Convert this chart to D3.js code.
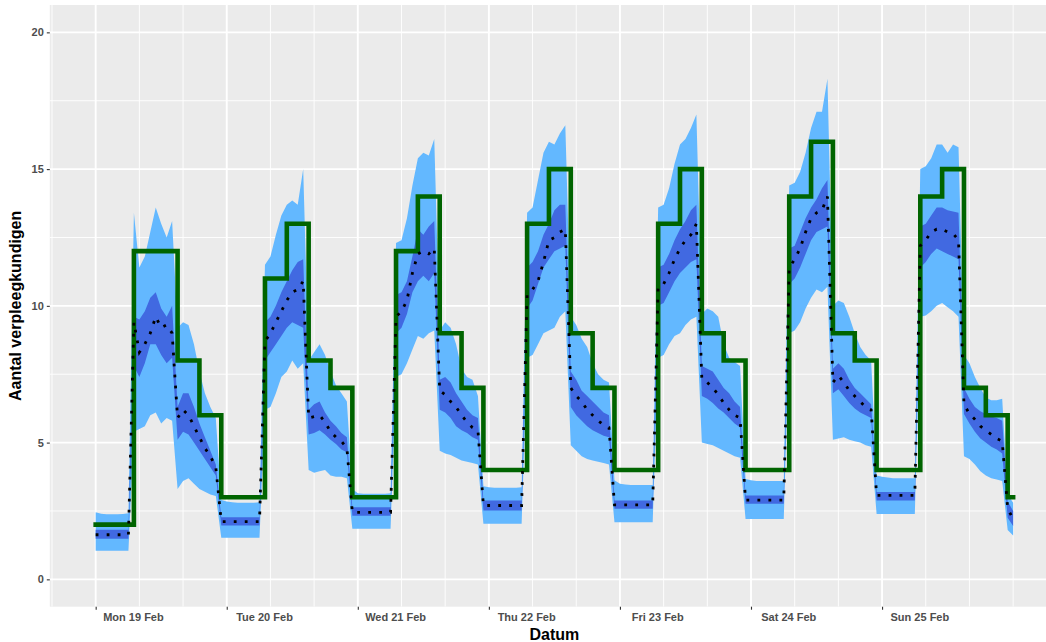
<!DOCTYPE html>
<html>
<head>
<meta charset="utf-8">
<script src="https://cdn.jsdelivr.net/npm/d3@7"></script>
<style>
  html, body { margin: 0; padding: 0; background: #ffffff; }
  svg { display: block; font-family: "Liberation Sans", Arial, sans-serif; }
</style>
</head>
<body>
<svg id="chart" width="1046" height="642"></svg>
<script>
// ---------------- DATA (hourly, from Mon 19 Feb 2018 00:00 to Mon 26 Feb 00:00) ----------------
const startDate = Date.UTC(2018, 1, 19, 0);

// median forecast (dotted line)
const median = [
  1.63,1.63,1.63,1.63,1.63,1.63,1.63,
  9.4,8.3,8.6,9.0,9.6,9.2,9.3,9.0,
  5.9,6.2,6.0,5.6,5.2,4.8,4.5,4.1,
  2.11,2.11,2.11,2.11,2.11,2.11,2.11,2.11,
  8.7,9.0,9.4,9.8,10.2,10.5,10.6,10.9,
  5.9,5.95,6.0,5.75,5.4,5.2,5.05,4.8,
  2.45,2.45,2.45,2.45,2.45,2.45,2.45,2.45,
  9.6,9.8,10.2,11.2,11.9,12.0,11.9,12.1,
  6.9,6.75,6.5,6.3,6.0,5.75,5.55,5.45,
  2.7,2.7,2.7,2.7,2.7,2.7,2.7,2.7,
  10.4,10.6,10.9,11.6,12.4,12.5,12.7,12.8,
  7.0,6.7,6.5,6.2,6.0,5.8,5.65,5.55,
  2.72,2.72,2.72,2.72,2.72,2.72,2.72,2.72,
  10.7,10.8,11.2,11.7,12.1,12.4,12.6,13.0,
  7.3,7.2,7.0,6.75,6.45,6.2,6.0,5.9,
  2.9,2.9,2.9,2.9,2.9,2.9,2.9,2.9,
  11.4,11.7,12.1,12.7,13.2,13.4,13.5,14.0,
  7.2,7.45,7.2,6.9,6.7,6.5,6.3,6.2,
  3.07,3.07,3.07,3.07,3.07,3.07,3.07,3.07,
  12.2,12.4,12.7,12.8,12.8,12.7,12.65,12.4,
  6.4,6.05,5.85,5.6,5.45,5.3,5.15,5.05,
  2.6,2.2
];

// inner band (dark blue) lower / upper
const lo80 = [
  1.48,1.48,1.48,1.48,1.48,1.48,1.48,
  7.8,7.4,7.9,8.6,8.6,8.2,7.9,8.1,
  5.1,5.4,5.3,5.0,4.7,4.4,4.1,3.8,
  1.97,1.97,1.97,1.97,1.97,1.97,1.97,1.97,
  8.0,8.3,8.6,8.9,9.2,9.4,9.3,9.2,
  5.3,5.35,5.45,5.3,5.1,4.95,4.75,4.65,
  2.33,2.33,2.33,2.33,2.33,2.33,2.33,2.33,
  9.0,9.2,9.7,10.5,10.9,11.1,10.9,11.2,
  6.2,6.1,5.9,5.6,5.45,5.35,5.2,5.1,
  2.52,2.52,2.52,2.52,2.52,2.52,2.52,2.52,
  9.9,10.2,10.8,11.4,11.7,12.0,12.1,12.2,
  6.3,6.0,5.8,5.6,5.45,5.35,5.25,5.2,
  2.58,2.58,2.58,2.58,2.58,2.58,2.58,2.58,
  10.0,10.1,10.5,10.9,11.2,11.4,11.6,11.7,
  6.7,6.6,6.45,6.25,6.1,5.9,5.7,5.55,
  2.76,2.76,2.76,2.76,2.76,2.76,2.76,2.76,
  10.8,11.0,11.4,11.9,12.4,12.7,12.8,12.9,
  6.8,6.95,6.7,6.45,6.25,6.1,6.0,5.9,
  2.88,2.88,2.88,2.88,2.88,2.88,2.88,2.88,
  11.4,11.6,11.9,12.1,12.0,11.9,11.8,11.7,
  6.05,5.7,5.4,5.15,5.0,4.85,4.75,4.6,
  2.25,1.95
];
const hi80 = [
  1.81,1.81,1.81,1.81,1.81,1.81,1.81,
  9.6,9.5,9.8,10.3,10.5,9.9,9.6,10.0,
  6.3,6.8,6.8,6.3,5.7,5.2,4.7,4.2,
  2.27,2.27,2.27,2.27,2.27,2.27,2.27,2.27,
  9.4,9.6,10.0,10.5,10.9,11.3,11.6,11.7,
  6.2,6.4,6.5,6.1,5.8,5.6,5.35,5.2,
  2.64,2.64,2.64,2.64,2.64,2.64,2.64,2.64,
  10.4,10.5,10.9,11.8,12.8,12.6,12.9,13.1,
  7.3,7.4,7.2,6.8,6.5,6.2,6.0,5.9,
  2.88,2.88,2.88,2.88,2.88,2.88,2.88,2.88,
  11.4,11.6,12.0,12.6,13.0,13.5,13.7,13.7,
  7.6,7.3,6.9,6.7,6.5,6.3,6.1,6.0,
  2.88,2.88,2.88,2.88,2.88,2.88,2.88,2.88,
  11.4,11.5,11.9,12.4,12.8,13.1,13.5,13.7,
  7.8,7.7,7.6,7.3,7.0,6.8,6.5,6.3,
  3.07,3.07,3.07,3.07,3.07,3.07,3.07,3.07,
  12.1,12.2,12.7,13.2,13.6,13.9,14.3,14.6,
  7.7,7.9,7.7,7.3,7.0,6.8,6.6,6.4,
  3.19,3.19,3.19,3.19,3.19,3.19,3.19,3.19,
  12.9,13.0,13.3,13.6,13.6,13.5,13.45,13.4,
  7.0,6.6,6.3,6.15,6.05,5.95,5.9,5.8,
  2.85,2.5
];

// outer band (light blue) lower / upper
const lo95 = [
  1.05,1.05,1.05,1.05,1.05,1.05,1.05,
  5.4,5.5,5.6,6.0,6.1,5.7,5.9,5.8,
  3.3,3.6,3.7,3.5,3.3,3.2,3.1,3.05,
  1.52,1.52,1.52,1.52,1.52,1.52,1.52,1.52,
  6.2,6.3,6.8,7.4,7.6,8.0,7.7,7.9,
  4.0,3.9,3.95,4.0,3.8,3.75,3.75,3.7,
  1.85,1.85,1.85,1.85,1.85,1.85,1.85,1.85,
  7.4,7.5,7.9,8.4,8.9,8.8,9.0,9.1,
  4.7,4.6,4.55,4.45,4.35,4.3,4.25,4.2,
  2.03,2.03,2.03,2.03,2.03,2.03,2.03,2.03,
  8.1,8.2,8.6,9.0,9.1,9.2,9.6,9.8,
  4.9,4.7,4.5,4.4,4.35,4.3,4.25,4.2,
  2.09,2.09,2.09,2.09,2.09,2.09,2.09,2.09,
  8.1,8.2,8.6,8.9,9.0,9.3,9.5,9.6,
  5.0,4.95,4.9,4.8,4.7,4.6,4.5,4.45,
  2.21,2.21,2.21,2.21,2.21,2.21,2.21,2.21,
  9.0,9.1,9.4,9.9,10.3,10.6,10.5,10.7,
  5.1,5.15,5.2,5.1,5.05,5.0,4.9,4.85,
  2.39,2.39,2.39,2.39,2.39,2.39,2.39,2.39,
  9.6,9.65,9.8,10.0,10.1,9.95,9.8,9.6,
  4.5,4.4,4.2,3.95,3.8,3.7,3.65,3.6,
  1.8,1.6
];
const hi95 = [
  2.45,2.4,2.38,2.38,2.38,2.39,2.42,
  13.4,11.4,11.8,12.7,13.6,13.0,12.5,13.1,
  9.2,9.4,9.3,8.6,7.6,6.8,6.3,5.9,
  2.9,2.85,2.82,2.8,2.8,2.8,2.8,2.82,
  11.5,11.8,12.6,13.3,13.7,13.85,13.7,15.0,
  8.0,8.3,8.6,8.2,7.6,7.1,6.8,6.5,
  3.3,3.15,3.13,3.13,3.13,3.13,3.13,3.15,
  12.3,12.4,13.2,14.4,15.4,15.6,15.5,16.1,
  9.1,9.4,9.2,8.6,7.7,7.4,7.3,6.7,
  3.4,3.37,3.35,3.35,3.35,3.35,3.35,3.37,
  13.4,13.6,14.6,15.6,16.0,15.9,16.3,16.6,
  9.6,9.3,8.8,8.5,7.9,7.5,7.3,7.2,
  3.62,3.5,3.47,3.45,3.45,3.45,3.45,3.45,
  13.6,13.7,14.3,15.2,15.9,16.1,16.5,17.0,
  9.7,9.9,9.8,9.6,8.6,8.1,7.95,7.8,
  3.67,3.62,3.6,3.6,3.6,3.6,3.6,3.6,
  14.4,14.5,14.9,15.6,16.5,17.1,17.1,18.3,
  10.0,10.2,10.1,9.6,9.0,8.5,8.2,8.0,
  3.8,3.75,3.72,3.7,3.7,3.7,3.7,3.7,
  15.0,15.1,15.4,15.9,15.9,15.6,15.9,15.8,
  8.2,7.9,7.4,7.0,6.65,6.55,6.55,6.6,
  3.1,2.8
];

// staffing (green step line): shift start hour since Mon 19 Feb 00:00, and number of nurses
const shiftHours  = [0,7,11,15,19,23, 31,35,39,43,47, 55,59,63,67,71, 79,83,87,91,95,
                     103,107,111,115,119, 127,131,135,139,143, 151,155,159,163,167, 168];
const shiftNurses = [2,12,12,8,6,3, 11,13,8,7,3, 12,14,9,7,4, 13,15,9,7,4,
                     13,15,9,8,4, 14,16,9,8,4, 14,15,7,6,3, 3];

// axis ticks
const yTicks = [0, 5, 10, 15, 20];
const dayTickLabels = ["Mon 19 Feb","Tue 20 Feb","Wed 21 Feb","Thu 22 Feb","Fri 23 Feb","Sat 24 Feb","Sun 25 Feb"];

// ---------------- CHART ----------------
const HOUR = 3600 * 1000;
const t = h => new Date(startDate + h * HOUR);

const W = 1046, H = 642;
const panel = { left: 49.8, right: 1059, top: 5, bottom: 606.7 };

const svg = d3.select("#chart");

const x = d3.scaleUtc()
  .domain([t(-8.4), t(176.4)])
  .range([panel.left, panel.right]);
const y = d3.scaleLinear()
  .domain([-1, 21])
  .range([panel.bottom, panel.top]);

svg.append("defs").append("clipPath").attr("id", "clip")
  .append("rect")
  .attr("x", panel.left).attr("y", panel.top)
  .attr("width", panel.right - panel.left).attr("height", panel.bottom - panel.top);

// panel background
svg.append("rect")
  .attr("x", panel.left).attr("y", panel.top)
  .attr("width", panel.right - panel.left).attr("height", panel.bottom - panel.top)
  .attr("fill", "#EBEBEB");

const grid = svg.append("g").attr("clip-path", "url(#clip)");

// minor grid: y every 2.5, x every 8 hours
const yMinor = d3.range(-2.5, 22.6, 5);
grid.selectAll(".ymin").data(yMinor).join("line")
  .attr("x1", panel.left).attr("x2", panel.right)
  .attr("y1", d => y(d)).attr("y2", d => y(d))
  .attr("stroke", "#ffffff").attr("stroke-width", 0.9);

const dayHours = dayTickLabels.map((_, i) => i * 24);
const xMinorHours = d3.range(-8, 177, 8).filter(h => !dayHours.includes(h));
grid.selectAll(".xmin").data(xMinorHours).join("line")
  .attr("x1", d => x(t(d))).attr("x2", d => x(t(d)))
  .attr("y1", panel.top).attr("y2", panel.bottom)
  .attr("stroke", "#ffffff").attr("stroke-width", 0.9);

// major grid
grid.selectAll(".ymaj").data(yTicks).join("line")
  .attr("x1", panel.left).attr("x2", panel.right)
  .attr("y1", d => y(d)).attr("y2", d => y(d))
  .attr("stroke", "#ffffff").attr("stroke-width", 1.9);
grid.selectAll(".xmaj").data(dayHours).join("line")
  .attr("x1", d => x(t(d))).attr("x2", d => x(t(d)))
  .attr("y1", panel.top).attr("y2", panel.bottom)
  .attr("stroke", "#ffffff").attr("stroke-width", 1.9);

// data layer
const plot = svg.append("g").attr("clip-path", "url(#clip)");
const hours = d3.range(median.length);
const rows = hours.map(h => ({
  time: t(h), med: median[h], lo80: lo80[h], hi80: hi80[h], lo95: lo95[h], hi95: hi95[h]
}));

plot.append("path").datum(rows)
  .attr("fill", "#63B8FF")
  .attr("d", d3.area().x(d => x(d.time)).y0(d => y(d.lo95)).y1(d => y(d.hi95)));
plot.append("path").datum(rows)
  .attr("fill", "#4169E1")
  .attr("d", d3.area().x(d => x(d.time)).y0(d => y(d.lo80)).y1(d => y(d.hi80)));

const steps = shiftHours.map((h, i) => ({ time: t(h), v: shiftNurses[i] }));
plot.append("path").datum(steps)
  .attr("fill", "none")
  .attr("stroke", "#006400")
  .attr("stroke-width", 4.6)
  .attr("stroke-linejoin", "miter")
  .attr("stroke-linecap", "square")
  .attr("d", d3.line().curve(d3.curveStepAfter).x(d => x(d.time)).y(d => y(d.v)));

plot.append("path").datum(rows)
  .attr("fill", "none")
  .attr("stroke", "#000000")
  .attr("stroke-width", 2.8)
  .attr("stroke-dasharray", "2.8,8.2")
  .attr("d", d3.line().x(d => x(d.time)).y(d => y(d.med)));

// axes
const yAxis = svg.append("g")
  .attr("transform", `translate(${panel.left},0)`)
  .call(d3.axisLeft(y).tickValues(yTicks).tickSize(3).tickPadding(3).tickFormat(d3.format("d")));
yAxis.select(".domain").remove();
yAxis.selectAll(".tick line").attr("stroke", "#333333").attr("stroke-width", 1.1);
yAxis.selectAll(".tick text")
  .attr("fill", "#4D4D4D").style("font-size", "11px").style("font-weight", "bold")
  .style("font-family", "'Liberation Sans', Arial, sans-serif");

const xAxis = svg.append("g")
  .attr("transform", `translate(0,${panel.bottom})`)
  .call(d3.axisBottom(x)
    .tickValues(dayHours.map(t))
    .tickSize(3).tickPadding(4)
    .tickFormat((d, i) => dayTickLabels[i]));
xAxis.select(".domain").remove();
xAxis.selectAll(".tick line").attr("stroke", "#333333").attr("stroke-width", 1.1);
xAxis.selectAll(".tick text")
  .attr("x", 37.3)
  .attr("fill", "#4D4D4D").style("font-size", "11px").style("font-weight", "bold")
  .style("font-family", "'Liberation Sans', Arial, sans-serif");

// axis titles
svg.append("text")
  .attr("x", (panel.left + panel.right) / 2).attr("y", 639.5)
  .attr("text-anchor", "middle")
  .style("font-size", "16px").style("font-weight", "bold")
  .attr("fill", "#000000")
  .text("Datum");
svg.append("text")
  .attr("transform", `translate(20.5,${(panel.top + panel.bottom) / 2}) rotate(-90)`)
  .attr("text-anchor", "middle")
  .style("font-size", "16px").style("font-weight", "bold")
  .attr("fill", "#000000")
  .text("Aantal verpleegkundigen");
</script>
</body>
</html>
